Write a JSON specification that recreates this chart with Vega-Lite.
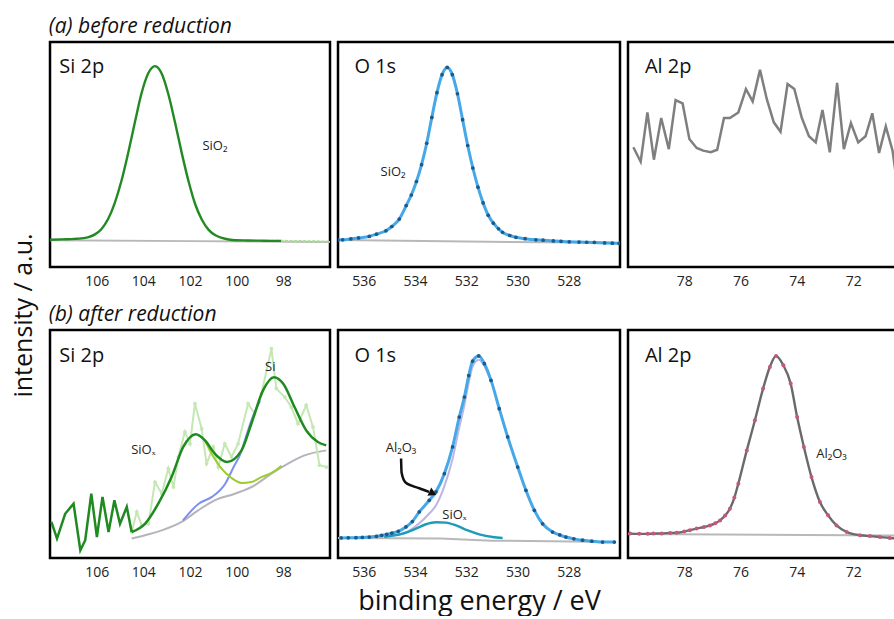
{
  "$schema": "https://vega.github.io/schema/vega-lite/v6.json",
  "padding": {"left": 11, "top": 15, "right": 0, "bottom": 0},
  "background": "white",
  "title": {"text": "intensity / a.u.", "orient": "left", "anchor": "middle", "fontSize": 25, "fontWeight": "normal", "font": "Open Sans", "color": "#111", "offset": 12},
  "spacing": 13,
  "vconcat": [
    {
      "title": {"text": "(a) before reduction", "anchor": "start", "fontStyle": "italic", "fontSize": 21, "fontWeight": "normal", "font": "Open Sans", "offset": 4, "color": "#111"},
      "spacing": 4,
      "hconcat": [
        {
          "width": 280, "height": 225,
          "data": {"values": [
            {"s":"tk","x":106},{"s":"tk","x":104},{"s":"tk","x":102},{"s":"tk","x":100},{"s":"tk","x":98},
            {"s":"base","x":108,"y":11.9},{"s":"base","x":102,"y":11.5},{"s":"base","x":96,"y":11.1},
            {"s":"fit","x":108.0,"y":12.1},{"s":"fit","x":107.5,"y":12.3},{"s":"fit","x":106.95,"y":12.5},{"s":"fit","x":106.66,"y":12.7},{"s":"fit","x":106.38,"y":13.2},{"s":"fit","x":106.09,"y":14.4},{"s":"fit","x":105.8,"y":16.8},{"s":"fit","x":105.51,"y":21.3},{"s":"fit","x":105.23,"y":28.3},{"s":"fit","x":104.94,"y":38.2},{"s":"fit","x":104.65,"y":50.7},{"s":"fit","x":104.36,"y":64.4},{"s":"fit","x":104.08,"y":77.1},{"s":"fit","x":103.79,"y":86.1},{"s":"fit","x":103.5,"y":89.3},{"s":"fit","x":103.21,"y":85.9},{"s":"fit","x":102.93,"y":76.9},{"s":"fit","x":102.64,"y":64.2},{"s":"fit","x":102.35,"y":50.5},{"s":"fit","x":102.06,"y":38.0},{"s":"fit","x":101.78,"y":28.0},{"s":"fit","x":101.49,"y":21.0},{"s":"fit","x":101.2,"y":16.5},{"s":"fit","x":100.91,"y":14.1},{"s":"fit","x":100.63,"y":12.9},{"s":"fit","x":100.34,"y":12.2},{"s":"fit","x":100.05,"y":11.9},{"s":"fit","x":99.5,"y":11.8},{"s":"fit","x":99.0,"y":11.7},{"s":"fit","x":98.5,"y":11.6},{"s":"fit","x":98.1,"y":11.6},
            {"s":"raw","x":98.5,"y":11.6},{"s":"raw","x":98.1,"y":11.6},{"s":"raw","x":97.7,"y":11.55},{"s":"raw","x":97.3,"y":11.5},{"s":"raw","x":96.9,"y":11.4},{"s":"raw","x":96.5,"y":11.35},{"s":"raw","x":96.1,"y":11.3},
            {"s":"title","x":107.6,"y":86.2,"t":"Si 2p"},
            {"s":"lab","x":100.93,"y":53.8,"t":"SiO₂"}
          ]},
          "encoding": {
            "x": {"field":"x","type":"quantitative","scale":{"domain":[108,96],"nice":false,"zero":false},"axis":{"orient":"bottom","values":[106,104,102,100,98],"ticks":false,"labelPadding":7,"title":null}},
            "y": {"field":"y","type":"quantitative","scale":{"domain":[0,100],"nice":false,"zero":false},"axis":null}
          },
          "layer": [
            {"transform":[{"filter":"datum.s==='base'"}],"mark":{"type":"line","color":"#b8b8b8","strokeWidth":2,"clip":true}},
            {"transform":[{"filter":"datum.s==='raw'"}],"mark":{"type":"line","color":"#a9dc94","strokeWidth":2.2,"strokeDash":[3,1.5],"clip":true}},
            {"transform":[{"filter":"datum.s==='fit'"}],"mark":{"type":"line","color":"#238a23","strokeWidth":2.4,"interpolate":"monotone","clip":true}},
            {"transform":[{"filter":"datum.s==='title'"}],"mark":{"type":"text","align":"left","baseline":"alphabetic","fontSize":20,"color":"#111"},"encoding":{"text":{"field":"t"}}},
            {"transform":[{"filter":"datum.s==='lab'"}],"mark":{"type":"text","align":"center","baseline":"middle","fontSize":13,"color":"#222"},"encoding":{"text":{"field":"t"}}},
            {"transform":[{"filter":"datum.s==='tk'"}],"mark":{"type":"point","shape":"stroke","angle":90,"size":36,"strokeWidth":2,"color":"#000","filled":false,"opacity":1},"encoding":{"y":{"datum":1.33,"type":"quantitative","axis":null}}},
            {"transform":[{"filter":"datum.s==='tk'"}],"mark":{"type":"point","shape":"stroke","angle":90,"size":36,"strokeWidth":2,"color":"#000","filled":false,"opacity":1},"encoding":{"y":{"datum":98.67,"type":"quantitative","axis":null}}}
          ]
        },
        {
          "width": 282, "height": 225,
          "data": {"values": [
            {"s":"tk","x":536},{"s":"tk","x":534},{"s":"tk","x":532},{"s":"tk","x":530},{"s":"tk","x":528},
            {"s":"base","x":537,"y":12.0},{"s":"base","x":532,"y":11.3},{"s":"base","x":526,"y":10.8},
            {"s":"fit","x":537.0,"y":12.0},{"s":"fit","x":536.82,"y":12.1},{"s":"fit","x":536.5,"y":12.5},{"s":"fit","x":536.2,"y":12.9},{"s":"fit","x":535.78,"y":13.6},{"s":"fit","x":535.5,"y":14.6},{"s":"fit","x":535.13,"y":16.1},{"s":"fit","x":534.9,"y":18.0},{"s":"fit","x":534.61,"y":21.3},{"s":"fit","x":534.34,"y":27.3},{"s":"fit","x":534.14,"y":32.0},{"s":"fit","x":533.94,"y":38.0},{"s":"fit","x":533.74,"y":45.5},{"s":"fit","x":533.54,"y":55.0},{"s":"fit","x":533.34,"y":66.5},{"s":"fit","x":533.14,"y":77.5},{"s":"fit","x":532.94,"y":85.5},{"s":"fit","x":532.74,"y":88.7},{"s":"fit","x":532.54,"y":85.5},{"s":"fit","x":532.34,"y":77.0},{"s":"fit","x":532.14,"y":65.5},{"s":"fit","x":531.94,"y":54.0},{"s":"fit","x":531.74,"y":44.0},{"s":"fit","x":531.54,"y":35.5},{"s":"fit","x":531.34,"y":28.5},{"s":"fit","x":531.14,"y":23.0},{"s":"fit","x":530.94,"y":19.5},{"s":"fit","x":530.74,"y":17.0},{"s":"fit","x":530.58,"y":15.4},{"s":"fit","x":530.3,"y":14.0},{"s":"fit","x":530.06,"y":13.2},{"s":"fit","x":529.7,"y":12.6},{"s":"fit","x":529.28,"y":12.1},{"s":"fit","x":529.0,"y":11.9},{"s":"fit","x":528.6,"y":11.6},{"s":"fit","x":528.3,"y":11.4},{"s":"fit","x":527.98,"y":11.2},{"s":"fit","x":527.6,"y":11.1},{"s":"fit","x":527.3,"y":11.0},{"s":"fit","x":527.0,"y":10.9},{"s":"fit","x":526.6,"y":10.7},{"s":"fit","x":526.3,"y":10.6},{"s":"fit","x":526.03,"y":10.5},
            {"s":"title","x":536.36,"y":86.2,"t":"O 1s"},
            {"s":"lab","x":534.85,"y":42.2,"t":"SiO₂"}
          ]},
          "encoding": {
            "x": {"field":"x","type":"quantitative","scale":{"domain":[537,526],"nice":false,"zero":false},"axis":{"orient":"bottom","values":[536,534,532,530,528],"ticks":false,"labelPadding":7,"title":null}},
            "y": {"field":"y","type":"quantitative","scale":{"domain":[0,100],"nice":false,"zero":false},"axis":null}
          },
          "layer": [
            {"transform":[{"filter":"datum.s==='base'"}],"mark":{"type":"line","color":"#b8b8b8","strokeWidth":2,"clip":true}},
            {"transform":[{"filter":"datum.s==='fit'"}],"mark":{"type":"line","color":"#45a8e8","strokeWidth":3,"interpolate":"monotone","clip":true}},
            {"transform":[{"filter":"datum.s==='fit'"}],"mark":{"type":"point","filled":true,"color":"#1d5a8a","size":14,"opacity":1,"clip":true}},
            {"transform":[{"filter":"datum.s==='title'"}],"mark":{"type":"text","align":"left","baseline":"alphabetic","fontSize":20,"color":"#111"},"encoding":{"text":{"field":"t"}}},
            {"transform":[{"filter":"datum.s==='lab'"}],"mark":{"type":"text","align":"center","baseline":"middle","fontSize":13,"color":"#222"},"encoding":{"text":{"field":"t"}}},
            {"transform":[{"filter":"datum.s==='tk'"}],"mark":{"type":"point","shape":"stroke","angle":90,"size":36,"strokeWidth":2,"color":"#000","filled":false,"opacity":1},"encoding":{"y":{"datum":1.33,"type":"quantitative","axis":null}}},
            {"transform":[{"filter":"datum.s==='tk'"}],"mark":{"type":"point","shape":"stroke","angle":90,"size":36,"strokeWidth":2,"color":"#000","filled":false,"opacity":1},"encoding":{"y":{"datum":98.67,"type":"quantitative","axis":null}}}
          ]
        },
        {
          "width": 273, "height": 225,
          "data": {"values": [
            {"s":"tk","x":78},{"s":"tk","x":76},{"s":"tk","x":74},{"s":"tk","x":72},
            {"s":"fit","x":79.81,"y":53.2},{"s":"fit","x":79.55,"y":46.8},{"s":"fit","x":79.31,"y":68.7},{"s":"fit","x":79.08,"y":47.7},{"s":"fit","x":78.82,"y":66.2},{"s":"fit","x":78.55,"y":52.4},{"s":"fit","x":78.31,"y":74.2},{"s":"fit","x":78.06,"y":72.7},{"s":"fit","x":77.82,"y":56.9},{"s":"fit","x":77.56,"y":52.9},{"s":"fit","x":77.33,"y":51.7},{"s":"fit","x":77.06,"y":51.0},{"s":"fit","x":76.83,"y":52.1},{"s":"fit","x":76.59,"y":66.2},{"s":"fit","x":76.38,"y":66.2},{"s":"fit","x":76.08,"y":68.7},{"s":"fit","x":75.81,"y":79.1},{"s":"fit","x":75.57,"y":73.6},{"s":"fit","x":75.31,"y":87.6},{"s":"fit","x":75.07,"y":74.7},{"s":"fit","x":74.82,"y":64.3},{"s":"fit","x":74.58,"y":60.1},{"s":"fit","x":74.33,"y":81.3},{"s":"fit","x":74.09,"y":79.1},{"s":"fit","x":73.83,"y":66.5},{"s":"fit","x":73.57,"y":58.1},{"s":"fit","x":73.33,"y":55.4},{"s":"fit","x":73.09,"y":69.8},{"s":"fit","x":72.83,"y":51.0},{"s":"fit","x":72.57,"y":81.8},{"s":"fit","x":72.33,"y":52.4},{"s":"fit","x":72.08,"y":64.0},{"s":"fit","x":71.82,"y":55.4},{"s":"fit","x":71.56,"y":58.1},{"s":"fit","x":71.32,"y":68.3},{"s":"fit","x":71.08,"y":50.7},{"s":"fit","x":70.84,"y":62.5},{"s":"fit","x":70.6,"y":51.7},{"s":"fit","x":70.34,"y":28.0},
            {"s":"title","x":79.4,"y":86.2,"t":"Al 2p"}
          ]},
          "encoding": {
            "x": {"field":"x","type":"quantitative","scale":{"domain":[80,70.3],"nice":false,"zero":false},"axis":{"orient":"bottom","values":[78,76,74,72],"ticks":false,"labelPadding":7,"title":null}},
            "y": {"field":"y","type":"quantitative","scale":{"domain":[0,100],"nice":false,"zero":false},"axis":null}
          },
          "layer": [
            {"transform":[{"filter":"datum.s==='fit'"}],"mark":{"type":"line","color":"#7f7f7f","strokeWidth":2.5,"clip":true}},
            {"transform":[{"filter":"datum.s==='title'"}],"mark":{"type":"text","align":"left","baseline":"alphabetic","fontSize":20,"color":"#111"},"encoding":{"text":{"field":"t"}}},
            {"transform":[{"filter":"datum.s==='tk'"}],"mark":{"type":"point","shape":"stroke","angle":90,"size":36,"strokeWidth":2,"color":"#000","filled":false,"opacity":1},"encoding":{"y":{"datum":1.33,"type":"quantitative","axis":null}}},
            {"transform":[{"filter":"datum.s==='tk'"}],"mark":{"type":"point","shape":"stroke","angle":90,"size":36,"strokeWidth":2,"color":"#000","filled":false,"opacity":1},"encoding":{"y":{"datum":98.67,"type":"quantitative","axis":null}}}
          ]
        }
      ]
    },
    {
      "title": {"text": "(b) after reduction", "anchor": "start", "fontStyle": "italic", "fontSize": 21, "fontWeight": "normal", "font": "Open Sans", "offset": 4, "color": "#111"},
      "spacing": 4,
      "hconcat": [
        {
          "width": 280, "height": 228,
          "data": {"values": [
            {"s":"tk","x":106},{"s":"tk","x":104},{"s":"tk","x":102},{"s":"tk","x":100},{"s":"tk","x":98},
            {"s":"base","x":104.5,"y":8.5},{"s":"base","x":103.93,"y":10.0},{"s":"base","x":103.21,"y":12.1},{"s":"base","x":102.36,"y":15.8},{"s":"base","x":101.65,"y":20.9},{"s":"base","x":100.94,"y":25.3},{"s":"base","x":100.08,"y":28.2},{"s":"base","x":99.23,"y":31.9},{"s":"base","x":98.51,"y":37.0},{"s":"base","x":97.8,"y":41.4},{"s":"base","x":97.09,"y":45.0},{"s":"base","x":96.16,"y":47.2},
            {"s":"raw","x":104.5,"y":11.4},{"s":"raw","x":104.28,"y":20.2},{"s":"raw","x":104.07,"y":14.3},{"s":"raw","x":103.78,"y":15.0},{"s":"raw","x":103.5,"y":33.3},{"s":"raw","x":103.21,"y":28.2},{"s":"raw","x":102.93,"y":39.2},{"s":"raw","x":102.71,"y":31.1},{"s":"raw","x":102.5,"y":44.3},{"s":"raw","x":102.22,"y":55.3},{"s":"raw","x":102.0,"y":50.1},{"s":"raw","x":101.79,"y":67.7},{"s":"raw","x":101.5,"y":56.7},{"s":"raw","x":101.29,"y":41.4},{"s":"raw","x":101.0,"y":48.7},{"s":"raw","x":100.79,"y":39.9},{"s":"raw","x":100.51,"y":50.1},{"s":"raw","x":100.22,"y":44.3},{"s":"raw","x":99.94,"y":50.1},{"s":"raw","x":99.51,"y":67.7},{"s":"raw","x":99.23,"y":63.3},{"s":"raw","x":98.94,"y":72.1},{"s":"raw","x":98.51,"y":91.8},{"s":"raw","x":98.3,"y":74.3},{"s":"raw","x":97.94,"y":70.6},{"s":"raw","x":97.66,"y":66.2},{"s":"raw","x":97.37,"y":58.9},{"s":"raw","x":97.02,"y":67.0},{"s":"raw","x":96.73,"y":57.5},{"s":"raw","x":96.45,"y":40.7},{"s":"raw","x":96.16,"y":39.9},
            {"s":"si","x":102.3,"y":16.5},{"s":"si","x":101.63,"y":23.8},{"s":"si","x":101.06,"y":26.8},{"s":"si","x":100.49,"y":32.6},{"s":"si","x":100.13,"y":39.9},{"s":"si","x":99.84,"y":45.7},{"s":"si","x":99.56,"y":54.5},{"s":"si","x":99.34,"y":61.1},{"s":"si","x":99.0,"y":69.0},
            {"s":"siox","x":101.36,"y":51.6},{"s":"siox","x":101.08,"y":45.8},{"s":"siox","x":100.7,"y":39.9},{"s":"siox","x":100.22,"y":35.1},{"s":"siox","x":99.79,"y":32.9},{"s":"siox","x":99.37,"y":33.3},{"s":"siox","x":98.94,"y":35.5},{"s":"siox","x":98.51,"y":37.3},{"s":"siox","x":98.08,"y":40.5},
            {"s":"noise","x":107.94,"y":15.8},{"s":"noise","x":107.7,"y":8.5},{"s":"noise","x":107.35,"y":19.4},{"s":"noise","x":106.99,"y":23.8},{"s":"noise","x":106.7,"y":3.4},{"s":"noise","x":106.49,"y":7.8},{"s":"noise","x":106.23,"y":28.2},{"s":"noise","x":105.99,"y":9.2},{"s":"noise","x":105.75,"y":26.8},{"s":"noise","x":105.49,"y":11.4},{"s":"noise","x":105.24,"y":25.3},{"s":"noise","x":105.0,"y":15.0},{"s":"noise","x":104.71,"y":22.4},{"s":"noise","x":104.5,"y":11.4},
            {"s":"fit","x":104.5,"y":11.4},{"s":"fit","x":103.93,"y":15.0},{"s":"fit","x":103.36,"y":23.8},{"s":"fit","x":102.79,"y":35.5},{"s":"fit","x":102.29,"y":48.7},{"s":"fit","x":101.75,"y":54.3},{"s":"fit","x":101.36,"y":51.6},{"s":"fit","x":100.94,"y":45.8},{"s":"fit","x":100.41,"y":42.1},{"s":"fit","x":99.79,"y":47.2},{"s":"fit","x":99.37,"y":58.9},{"s":"fit","x":98.87,"y":73.5},{"s":"fit","x":98.4,"y":79.3},{"s":"fit","x":98.01,"y":76.5},{"s":"fit","x":97.52,"y":66.2},{"s":"fit","x":97.02,"y":56.0},{"s":"fit","x":96.52,"y":50.9},{"s":"fit","x":96.16,"y":49.4},
            {"s":"title","x":107.6,"y":86.0,"t":"Si 2p"},
            {"s":"lab","x":104.0,"y":47.2,"t":"SiOₓ"},
            {"s":"lab","x":98.56,"y":83.8,"t":"Si"}
          ]},
          "encoding": {
            "x": {"field":"x","type":"quantitative","scale":{"domain":[108,96],"nice":false,"zero":false},"axis":{"orient":"bottom","values":[106,104,102,100,98],"ticks":false,"labelPadding":7,"title":null}},
            "y": {"field":"y","type":"quantitative","scale":{"domain":[0,100],"nice":false,"zero":false},"axis":null}
          },
          "layer": [
            {"transform":[{"filter":"datum.s==='base'"}],"mark":{"type":"line","color":"#b5b3bb","strokeWidth":2,"interpolate":"monotone","clip":true}},
            {"transform":[{"filter":"datum.s==='raw'"}],"mark":{"type":"line","color":"#c4e7b4","strokeWidth":2,"point":{"filled":true,"size":14,"color":"#c4e7b4"},"clip":true}},
            {"transform":[{"filter":"datum.s==='si'"}],"mark":{"type":"line","color":"#7f8ff0","strokeWidth":2,"interpolate":"monotone","clip":true}},
            {"transform":[{"filter":"datum.s==='siox'"}],"mark":{"type":"line","color":"#9ccd2e","strokeWidth":2,"interpolate":"monotone","clip":true}},
            {"transform":[{"filter":"datum.s==='noise'"}],"mark":{"type":"line","color":"#1f8a1f","strokeWidth":2.5,"clip":true}},
            {"transform":[{"filter":"datum.s==='fit'"}],"mark":{"type":"line","color":"#1f8a1f","strokeWidth":2.5,"interpolate":"monotone","clip":true}},
            {"transform":[{"filter":"datum.s==='title'"}],"mark":{"type":"text","align":"left","baseline":"alphabetic","fontSize":20,"color":"#111"},"encoding":{"text":{"field":"t"}}},
            {"transform":[{"filter":"datum.s==='lab'"}],"mark":{"type":"text","align":"center","baseline":"middle","fontSize":13,"color":"#222"},"encoding":{"text":{"field":"t"}}},
            {"transform":[{"filter":"datum.s==='tk'"}],"mark":{"type":"point","shape":"stroke","angle":90,"size":36,"strokeWidth":2,"color":"#000","filled":false,"opacity":1},"encoding":{"y":{"datum":1.33,"type":"quantitative","axis":null}}},
            {"transform":[{"filter":"datum.s==='tk'"}],"mark":{"type":"point","shape":"stroke","angle":90,"size":36,"strokeWidth":2,"color":"#000","filled":false,"opacity":1},"encoding":{"y":{"datum":98.67,"type":"quantitative","axis":null}}}
          ]
        },
        {
          "width": 282, "height": 228,
          "data": {"values": [
            {"s":"tk","x":536},{"s":"tk","x":534},{"s":"tk","x":532},{"s":"tk","x":530},{"s":"tk","x":528},
            {"s":"base","x":537,"y":8.8},{"s":"base","x":533,"y":8.5},{"s":"base","x":531,"y":7.6},{"s":"base","x":526.2,"y":7.0},
            {"s":"sx","x":535.2,"y":9.3},{"s":"sx","x":534.48,"y":10.7},{"s":"sx","x":533.96,"y":12.9},{"s":"sx","x":533.57,"y":14.8},{"s":"sx","x":533.18,"y":15.7},{"s":"sx","x":532.79,"y":15.5},{"s":"sx","x":532.4,"y":14.3},{"s":"sx","x":531.94,"y":12.1},{"s":"sx","x":531.49,"y":10.4},{"s":"sx","x":530.97,"y":9.2},{"s":"sx","x":530.58,"y":8.8},
            {"s":"al","x":535.2,"y":9.6},{"s":"al","x":534.48,"y":10.6},{"s":"al","x":533.83,"y":15.2},{"s":"al","x":533.44,"y":19.5},{"s":"al","x":533.18,"y":23.0},{"s":"al","x":532.85,"y":31.5},{"s":"al","x":532.53,"y":43.5},{"s":"al","x":532.27,"y":57.3},{"s":"al","x":532.07,"y":67.0},{"s":"al","x":531.9,"y":77.0},{"s":"al","x":531.75,"y":84.0},{"s":"al","x":531.51,"y":87.0},{"s":"al","x":531.29,"y":84.2},{"s":"al","x":531.03,"y":77.4},
            {"s":"fit","x":536.88,"y":8.8},{"s":"fit","x":536.6,"y":8.85},{"s":"fit","x":536.3,"y":8.9},{"s":"fit","x":536.05,"y":9.0},{"s":"fit","x":535.78,"y":9.2},{"s":"fit","x":535.5,"y":9.5},{"s":"fit","x":535.3,"y":9.9},{"s":"fit","x":535.1,"y":10.4},{"s":"fit","x":534.9,"y":10.9},{"s":"fit","x":534.65,"y":11.7},{"s":"fit","x":534.35,"y":13.6},{"s":"fit","x":534.1,"y":16.0},{"s":"fit","x":533.83,"y":20.2},{"s":"fit","x":533.44,"y":25.3},{"s":"fit","x":533.18,"y":29.0},{"s":"fit","x":532.85,"y":37.0},{"s":"fit","x":532.53,"y":48.7},{"s":"fit","x":532.27,"y":61.8},{"s":"fit","x":532.07,"y":70.6},{"s":"fit","x":531.9,"y":80.0},{"s":"fit","x":531.75,"y":86.3},{"s":"fit","x":531.51,"y":88.6},{"s":"fit","x":531.29,"y":85.2},{"s":"fit","x":531.03,"y":77.9},{"s":"fit","x":530.71,"y":65.5},{"s":"fit","x":530.38,"y":53.1},{"s":"fit","x":529.99,"y":39.9},{"s":"fit","x":529.67,"y":29.7},{"s":"fit","x":529.34,"y":20.9},{"s":"fit","x":529.02,"y":15.0},{"s":"fit","x":528.63,"y":11.4},{"s":"fit","x":528.35,"y":10.1},{"s":"fit","x":528.11,"y":9.2},{"s":"fit","x":527.8,"y":8.4},{"s":"fit","x":527.46,"y":7.8},{"s":"fit","x":527.1,"y":7.4},{"s":"fit","x":526.68,"y":7.0},{"s":"fit","x":526.22,"y":7.0},
            {"s":"arrow","o":1,"x":534.54,"y":43.6},{"s":"arrow","o":2,"x":534.52,"y":37.5},{"s":"arrow","o":3,"x":534.38,"y":33.3},{"s":"arrow","o":4,"x":534.1,"y":31.6},{"s":"arrow","o":5,"x":533.83,"y":30.6},{"s":"arrow","o":6,"x":533.45,"y":29.0},
            {"s":"head","x":533.3,"y":28.4},
            {"s":"title","x":536.36,"y":86.0,"t":"O 1s"},
            {"s":"lab","x":534.54,"y":48.4,"t":"Al₂O₃"},
            {"s":"lab","x":532.46,"y":18.7,"t":"SiOₓ"}
          ]},
          "encoding": {
            "x": {"field":"x","type":"quantitative","scale":{"domain":[537,526],"nice":false,"zero":false},"axis":{"orient":"bottom","values":[536,534,532,530,528],"ticks":false,"labelPadding":7,"title":"binding energy / eV","titleFontSize":27,"titleFont":"Open Sans","titleFontWeight":"normal","titleColor":"#111","titlePadding":9}},
            "y": {"field":"y","type":"quantitative","scale":{"domain":[0,100],"nice":false,"zero":false},"axis":null}
          },
          "layer": [
            {"transform":[{"filter":"datum.s==='base'"}],"mark":{"type":"line","color":"#b8b8b8","strokeWidth":2,"clip":true}},
            {"transform":[{"filter":"datum.s==='al'"}],"mark":{"type":"line","color":"#bcb5e6","strokeWidth":2,"interpolate":"monotone","clip":true}},
            {"transform":[{"filter":"datum.s==='sx'"}],"mark":{"type":"line","color":"#1e9bb8","strokeWidth":2.4,"interpolate":"monotone","clip":true}},
            {"transform":[{"filter":"datum.s==='fit'"}],"mark":{"type":"line","color":"#45a8e8","strokeWidth":3,"interpolate":"monotone","clip":true}},
            {"transform":[{"filter":"datum.s==='fit'"}],"mark":{"type":"point","filled":true,"color":"#1d5a8a","size":14,"opacity":1,"clip":true}},
            {"transform":[{"filter":"datum.s==='arrow'"}],"mark":{"type":"line","color":"#111","strokeWidth":2.5,"interpolate":"monotone"},"encoding":{"order":{"field":"o","type":"quantitative"}}},
            {"transform":[{"filter":"datum.s==='head'"}],"mark":{"type":"point","shape":"triangle-right","filled":true,"color":"#111","size":80,"angle":25,"opacity":1}},
            {"transform":[{"filter":"datum.s==='title'"}],"mark":{"type":"text","align":"left","baseline":"alphabetic","fontSize":20,"color":"#111"},"encoding":{"text":{"field":"t"}}},
            {"transform":[{"filter":"datum.s==='lab'"}],"mark":{"type":"text","align":"center","baseline":"middle","fontSize":13,"color":"#222"},"encoding":{"text":{"field":"t"}}},
            {"transform":[{"filter":"datum.s==='tk'"}],"mark":{"type":"point","shape":"stroke","angle":90,"size":36,"strokeWidth":2,"color":"#000","filled":false,"opacity":1},"encoding":{"y":{"datum":1.33,"type":"quantitative","axis":null}}},
            {"transform":[{"filter":"datum.s==='tk'"}],"mark":{"type":"point","shape":"stroke","angle":90,"size":36,"strokeWidth":2,"color":"#000","filled":false,"opacity":1},"encoding":{"y":{"datum":98.67,"type":"quantitative","axis":null}}}
          ]
        },
        {
          "width": 273, "height": 228,
          "data": {"values": [
            {"s":"tk","x":78},{"s":"tk","x":76},{"s":"tk","x":74},{"s":"tk","x":72},
            {"s":"base","x":80,"y":10.5},{"s":"base","x":70.3,"y":9.8},
            {"s":"fit","x":79.93,"y":10.7},{"s":"fit","x":79.6,"y":10.6},{"s":"fit","x":79.3,"y":10.6},{"s":"fit","x":79.1,"y":10.7},{"s":"fit","x":78.8,"y":10.8},{"s":"fit","x":78.5,"y":11.0},{"s":"fit","x":78.27,"y":11.1},{"s":"fit","x":78.0,"y":11.6},{"s":"fit","x":77.8,"y":12.2},{"s":"fit","x":77.56,"y":12.9},{"s":"fit","x":77.3,"y":13.6},{"s":"fit","x":77.09,"y":14.3},{"s":"fit","x":76.9,"y":15.2},{"s":"fit","x":76.73,"y":16.5},{"s":"fit","x":76.55,"y":18.6},{"s":"fit","x":76.38,"y":21.6},{"s":"fit","x":76.22,"y":26.5},{"s":"fit","x":76.08,"y":32.6},{"s":"fit","x":75.78,"y":47.2},{"s":"fit","x":75.49,"y":60.4},{"s":"fit","x":75.2,"y":74.3},{"s":"fit","x":74.96,"y":83.8},{"s":"fit","x":74.74,"y":88.6},{"s":"fit","x":74.48,"y":84.5},{"s":"fit","x":74.22,"y":76.5},{"s":"fit","x":73.99,"y":61.8},{"s":"fit","x":73.75,"y":48.7},{"s":"fit","x":73.48,"y":35.5},{"s":"fit","x":73.18,"y":24.6},{"s":"fit","x":72.89,"y":18.7},{"s":"fit","x":72.59,"y":14.3},{"s":"fit","x":72.23,"y":11.4},{"s":"fit","x":71.76,"y":10.0},{"s":"fit","x":71.4,"y":9.6},{"s":"fit","x":71.05,"y":9.2},{"s":"fit","x":70.7,"y":8.8},{"s":"fit","x":70.35,"y":8.5},
            {"s":"title","x":79.4,"y":86.0,"t":"Al 2p"},
            {"s":"lab","x":72.77,"y":45.7,"t":"Al₂O₃"}
          ]},
          "encoding": {
            "x": {"field":"x","type":"quantitative","scale":{"domain":[80,70.3],"nice":false,"zero":false},"axis":{"orient":"bottom","values":[78,76,74,72],"ticks":false,"labelPadding":7,"title":null}},
            "y": {"field":"y","type":"quantitative","scale":{"domain":[0,100],"nice":false,"zero":false},"axis":null}
          },
          "layer": [
            {"transform":[{"filter":"datum.s==='base'"}],"mark":{"type":"line","color":"#b8b8b8","strokeWidth":2,"clip":true}},
            {"transform":[{"filter":"datum.s==='fit'"}],"mark":{"type":"line","color":"#6a6a6a","strokeWidth":2.4,"interpolate":"monotone","clip":true}},
            {"transform":[{"filter":"datum.s==='fit'"}],"mark":{"type":"point","filled":true,"color":"#c4587c","size":16,"opacity":1,"clip":true}},
            {"transform":[{"filter":"datum.s==='title'"}],"mark":{"type":"text","align":"left","baseline":"alphabetic","fontSize":20,"color":"#111"},"encoding":{"text":{"field":"t"}}},
            {"transform":[{"filter":"datum.s==='lab'"}],"mark":{"type":"text","align":"center","baseline":"middle","fontSize":13,"color":"#222"},"encoding":{"text":{"field":"t"}}},
            {"transform":[{"filter":"datum.s==='tk'"}],"mark":{"type":"point","shape":"stroke","angle":90,"size":36,"strokeWidth":2,"color":"#000","filled":false,"opacity":1},"encoding":{"y":{"datum":1.33,"type":"quantitative","axis":null}}},
            {"transform":[{"filter":"datum.s==='tk'"}],"mark":{"type":"point","shape":"stroke","angle":90,"size":36,"strokeWidth":2,"color":"#000","filled":false,"opacity":1},"encoding":{"y":{"datum":98.67,"type":"quantitative","axis":null}}}
          ]
        }
      ]
    }
  ],
  "config": {
    "view": {"stroke": "#000", "strokeWidth": 2.5},
    "axis": {"labelFont": "Open Sans", "labelFontSize": 14, "labelColor": "#222", "domain": false, "grid": false},
    "text": {"font": "Open Sans"}
  }
}
